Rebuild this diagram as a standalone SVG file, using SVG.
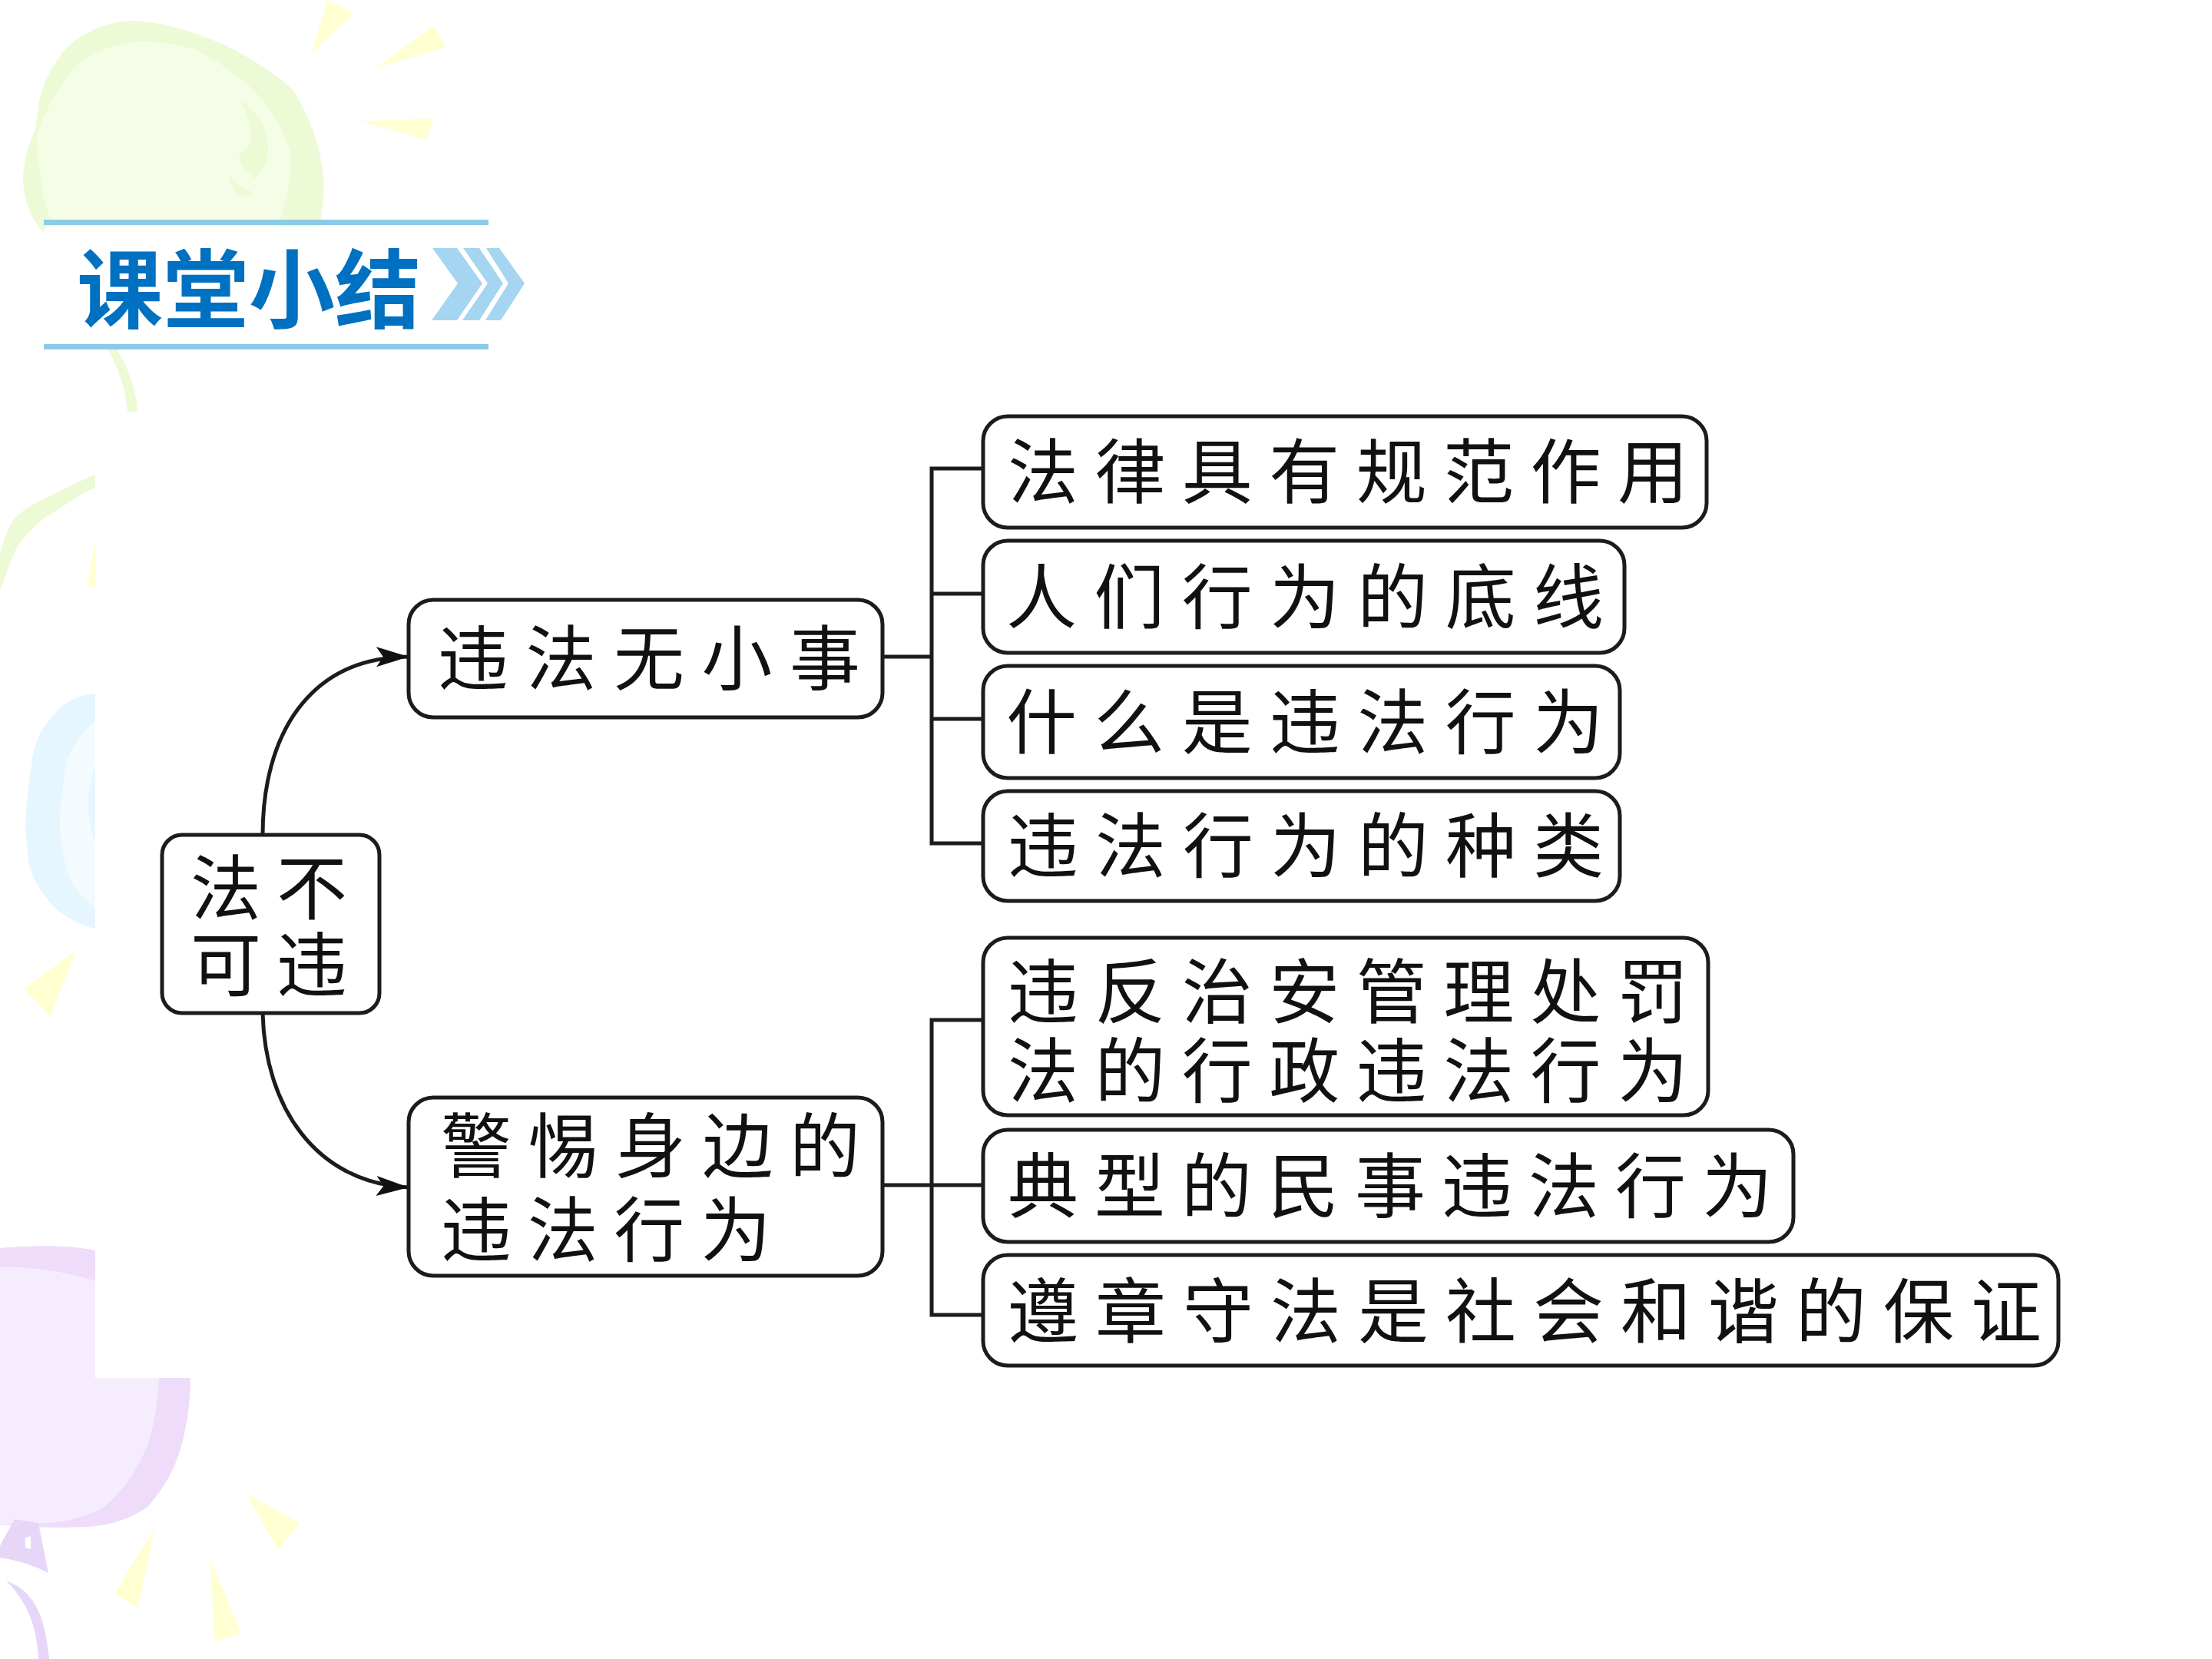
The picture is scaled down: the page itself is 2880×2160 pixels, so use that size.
<svg xmlns="http://www.w3.org/2000/svg" width="2880" height="2160" viewBox="0 0 2880 2160">
<style>
.box{fill:#fff;stroke:#1c1c1c;stroke-width:5}
.wire{fill:none;stroke:#1c1c1c;stroke-width:5}
.t{font-family:"Noto Sans CJK SC","Noto Sans CJK JP",sans-serif;font-weight:400;font-size:92px;fill:#111}
.title{font-family:"Noto Sans CJK SC",sans-serif;font-weight:700;font-size:112px;fill:#0070c0}
.rule{fill:#8ccbe8}
.chev{fill:#a5d5f0}
.sun{fill:#ffffd2}
.leaf{fill:#edfad6}
.lilac{fill:#e8d6f8}
</style>
<defs>
<marker id="arrow" markerUnits="userSpaceOnUse" markerWidth="44" markerHeight="30" refX="42" refY="15" orient="auto"><path d="M0 2L42 15L0 28L9 15Z" fill="#111"/></marker>
<clipPath id="edge"><path d="M0 0H2880V293H640V536H124V1794H2880V2160H0Z"/></clipPath>
</defs>
<rect width="2880" height="2160" fill="#fff"/>
<g id="backdrop" clip-path="url(#edge)">
<!-- balloon and its highlights, top left -->
<path class="leaf" d="M56 302C40 285 30 260 30 230C32 205 38 185 46 168L49 145C52 120 60 100 71 84C80 68 92 56 105 48C130 32 155 27 178 27C220 30 265 45 306 65C340 85 365 100 383 119C405 155 418 195 421 230C423 250 420 270 416 295H60Z"/>
<path d="M48 176C60 140 80 105 102 84C125 65 155 55 189 54C212 55 235 58 255 65C285 80 310 98 332 119C355 145 370 170 378 199C382 230 372 260 362 295H70C60 270 54 255 54 237C50 215 48 195 48 176Z" fill="#f5fde6"/>
<path class="leaf" d="M314 134C322 150 328 165 327 180C325 190 318 195 311 203C312 215 322 225 332 232C342 220 349 210 349 195C349 175 342 160 337 153L320 134Z"/>
<path class="leaf" d="M298 228C305 238 318 245 327 249C325 256 318 258 314 256C305 252 298 240 298 228Z"/>
<path class="leaf" d="M140 455H152C168 480 178 510 179 536H166C163 505 155 480 140 455Z"/>
<path class="sun" d="M426 0L461 17L406 70Z"/><path class="sun" d="M565 33L580 62L490 88Z"/><path class="sun" d="M470 158L565 154L555 182Z"/>
<!-- green ribbon on the left margin -->
<path class="leaf" d="M0 769V719C6 700 12 685 19 675C30 664 42 656 57 650C80 638 100 628 124 618V635C100 645 80 662 57 675C40 690 25 705 19 719C12 735 6 752 0 769Z"/>
<path class="sun" d="M124 704L113 764H124Z"/>
<!-- blue balloon -->
<path d="M124 903C100 906 90 912 77 923C55 945 45 965 42 988C38 1020 33 1050 33 1078C34 1095 36 1110 38 1127C45 1150 60 1172 77 1187C95 1200 110 1206 124 1209Z" fill="#e6f6ff"/>
<path d="M124 938C105 955 95 970 88 988C82 1015 78 1050 78 1078C80 1105 85 1130 92 1147C100 1160 112 1172 124 1182Z" fill="#f3fbff"/>
<path d="M124 998C118 1015 115 1030 115 1048C115 1065 118 1080 124 1098Z" fill="#e6f6ff"/>
<path class="sun" d="M31 1287L100 1237L65 1323Z"/>
<!-- lilac balloon, bottom left -->
<path d="M0 1625C50 1620 100 1622 124 1628V1794H248C248 1830 242 1865 233 1893C222 1925 205 1948 191 1963C165 1980 140 1986 115 1988C70 1990 30 1988 0 1985Z" fill="#efdcfa"/>
<path d="M0 1650C50 1648 100 1660 124 1668V1794H207C206 1825 200 1860 191 1884C178 1915 158 1945 134 1963C105 1978 80 1982 57 1983C35 1985 15 1985 0 1984Z" fill="#f5edfd"/>
<path class="lilac" d="M0 2013C6 2000 14 1988 19 1978L50 1983L63 2048C40 2036 15 2030 0 2028Z"/>
<path d="M33 2002L40 2000V2017L33 2015Z" fill="#fff"/>
<path class="lilac" d="M8 2058C40 2070 58 2095 64 2160H50C48 2110 30 2080 8 2058Z"/>
<path class="sun" d="M321 1945L390 1983L362 2018Z"/><path class="sun" d="M201 1990L149 2075L180 2093Z"/><path class="sun" d="M274 2030L314 2127L279 2137Z"/>
</g>
<g id="heading">
<rect class="rule" x="57" y="286" width="579" height="7"/>
<rect class="rule" x="57" y="448" width="579" height="7"/>
<text class="title" x="100" y="419">课堂小结</text>
<path class="chev" d="M563 323H595L628 369L595 417H562L596 369Z"/>
<path class="chev" d="M603 323H624L655 369L624 417H602L635 369Z"/>
<path class="chev" d="M633 323H650L683 369L652 417H632L662 369Z"/>
</g>
<g id="connectors">
<path class="wire" d="M342 1087C342 960 400 856 532 855" marker-end="url(#arrow)"/>
<path class="wire" d="M342 1319C345 1440 410 1540 532 1546" marker-end="url(#arrow)"/>
<path class="wire" d="M1149 855H1213"/>
<path class="wire" d="M1280 610H1213V1098H1280"/>
<path class="wire" d="M1213 773H1280M1213 936H1280"/>
<path class="wire" d="M1149 1543H1280"/>
<path class="wire" d="M1280 1328H1213V1712H1280"/>
</g>
<g id="n-root"><rect class="box" x="211" y="1087" width="283" height="232" rx="26"/><text class="t" x="248" y="1190" textLength="204" lengthAdjust="spacing">法不</text><text class="t" x="248" y="1290" textLength="204" lengthAdjust="spacing">可违</text></g>
<g id="n-a"><rect class="box" x="532" y="781" width="617" height="153" rx="32"/><text class="t" x="570" y="891" textLength="550">违法无小事</text></g>
<g id="n-b"><rect class="box" x="532" y="1429" width="617" height="232" rx="32"/><text class="t" x="574" y="1526" textLength="546">警惕身边的</text><text class="t" x="574" y="1635" textLength="430">违法行为</text></g>
<g id="n-a1"><rect class="box" x="1280" y="542" width="942" height="145" rx="32"/><text class="t" x="1312" y="648" textLength="886">法律具有规范作用</text></g>
<g id="n-a2"><rect class="box" x="1280" y="704" width="835" height="146" rx="32"/><text class="t" x="1310" y="811" textLength="778">人们行为的底线</text></g>
<g id="n-a3"><rect class="box" x="1280" y="867" width="829" height="146" rx="32"/><text class="t" x="1310" y="974" textLength="778">什么是违法行为</text></g>
<g id="n-a4"><rect class="box" x="1280" y="1030" width="829" height="143" rx="32"/><text class="t" x="1312" y="1135" textLength="776">违法行为的种类</text></g>
<g id="n-b1"><rect class="box" x="1280" y="1221" width="944" height="231" rx="32"/><text class="t" x="1312" y="1325" textLength="886">违反治安管理处罚</text><text class="t" x="1312" y="1428" textLength="886">法的行政违法行为</text></g>
<g id="n-b2"><rect class="box" x="1280" y="1471" width="1055" height="146" rx="32"/><text class="t" x="1312" y="1578" textLength="996">典型的民事违法行为</text></g>
<g id="n-b3"><rect class="box" x="1280" y="1634" width="1400" height="144" rx="32"/><text class="t" x="1312" y="1741" textLength="1346">遵章守法是社会和谐的保证</text></g>
</svg>
